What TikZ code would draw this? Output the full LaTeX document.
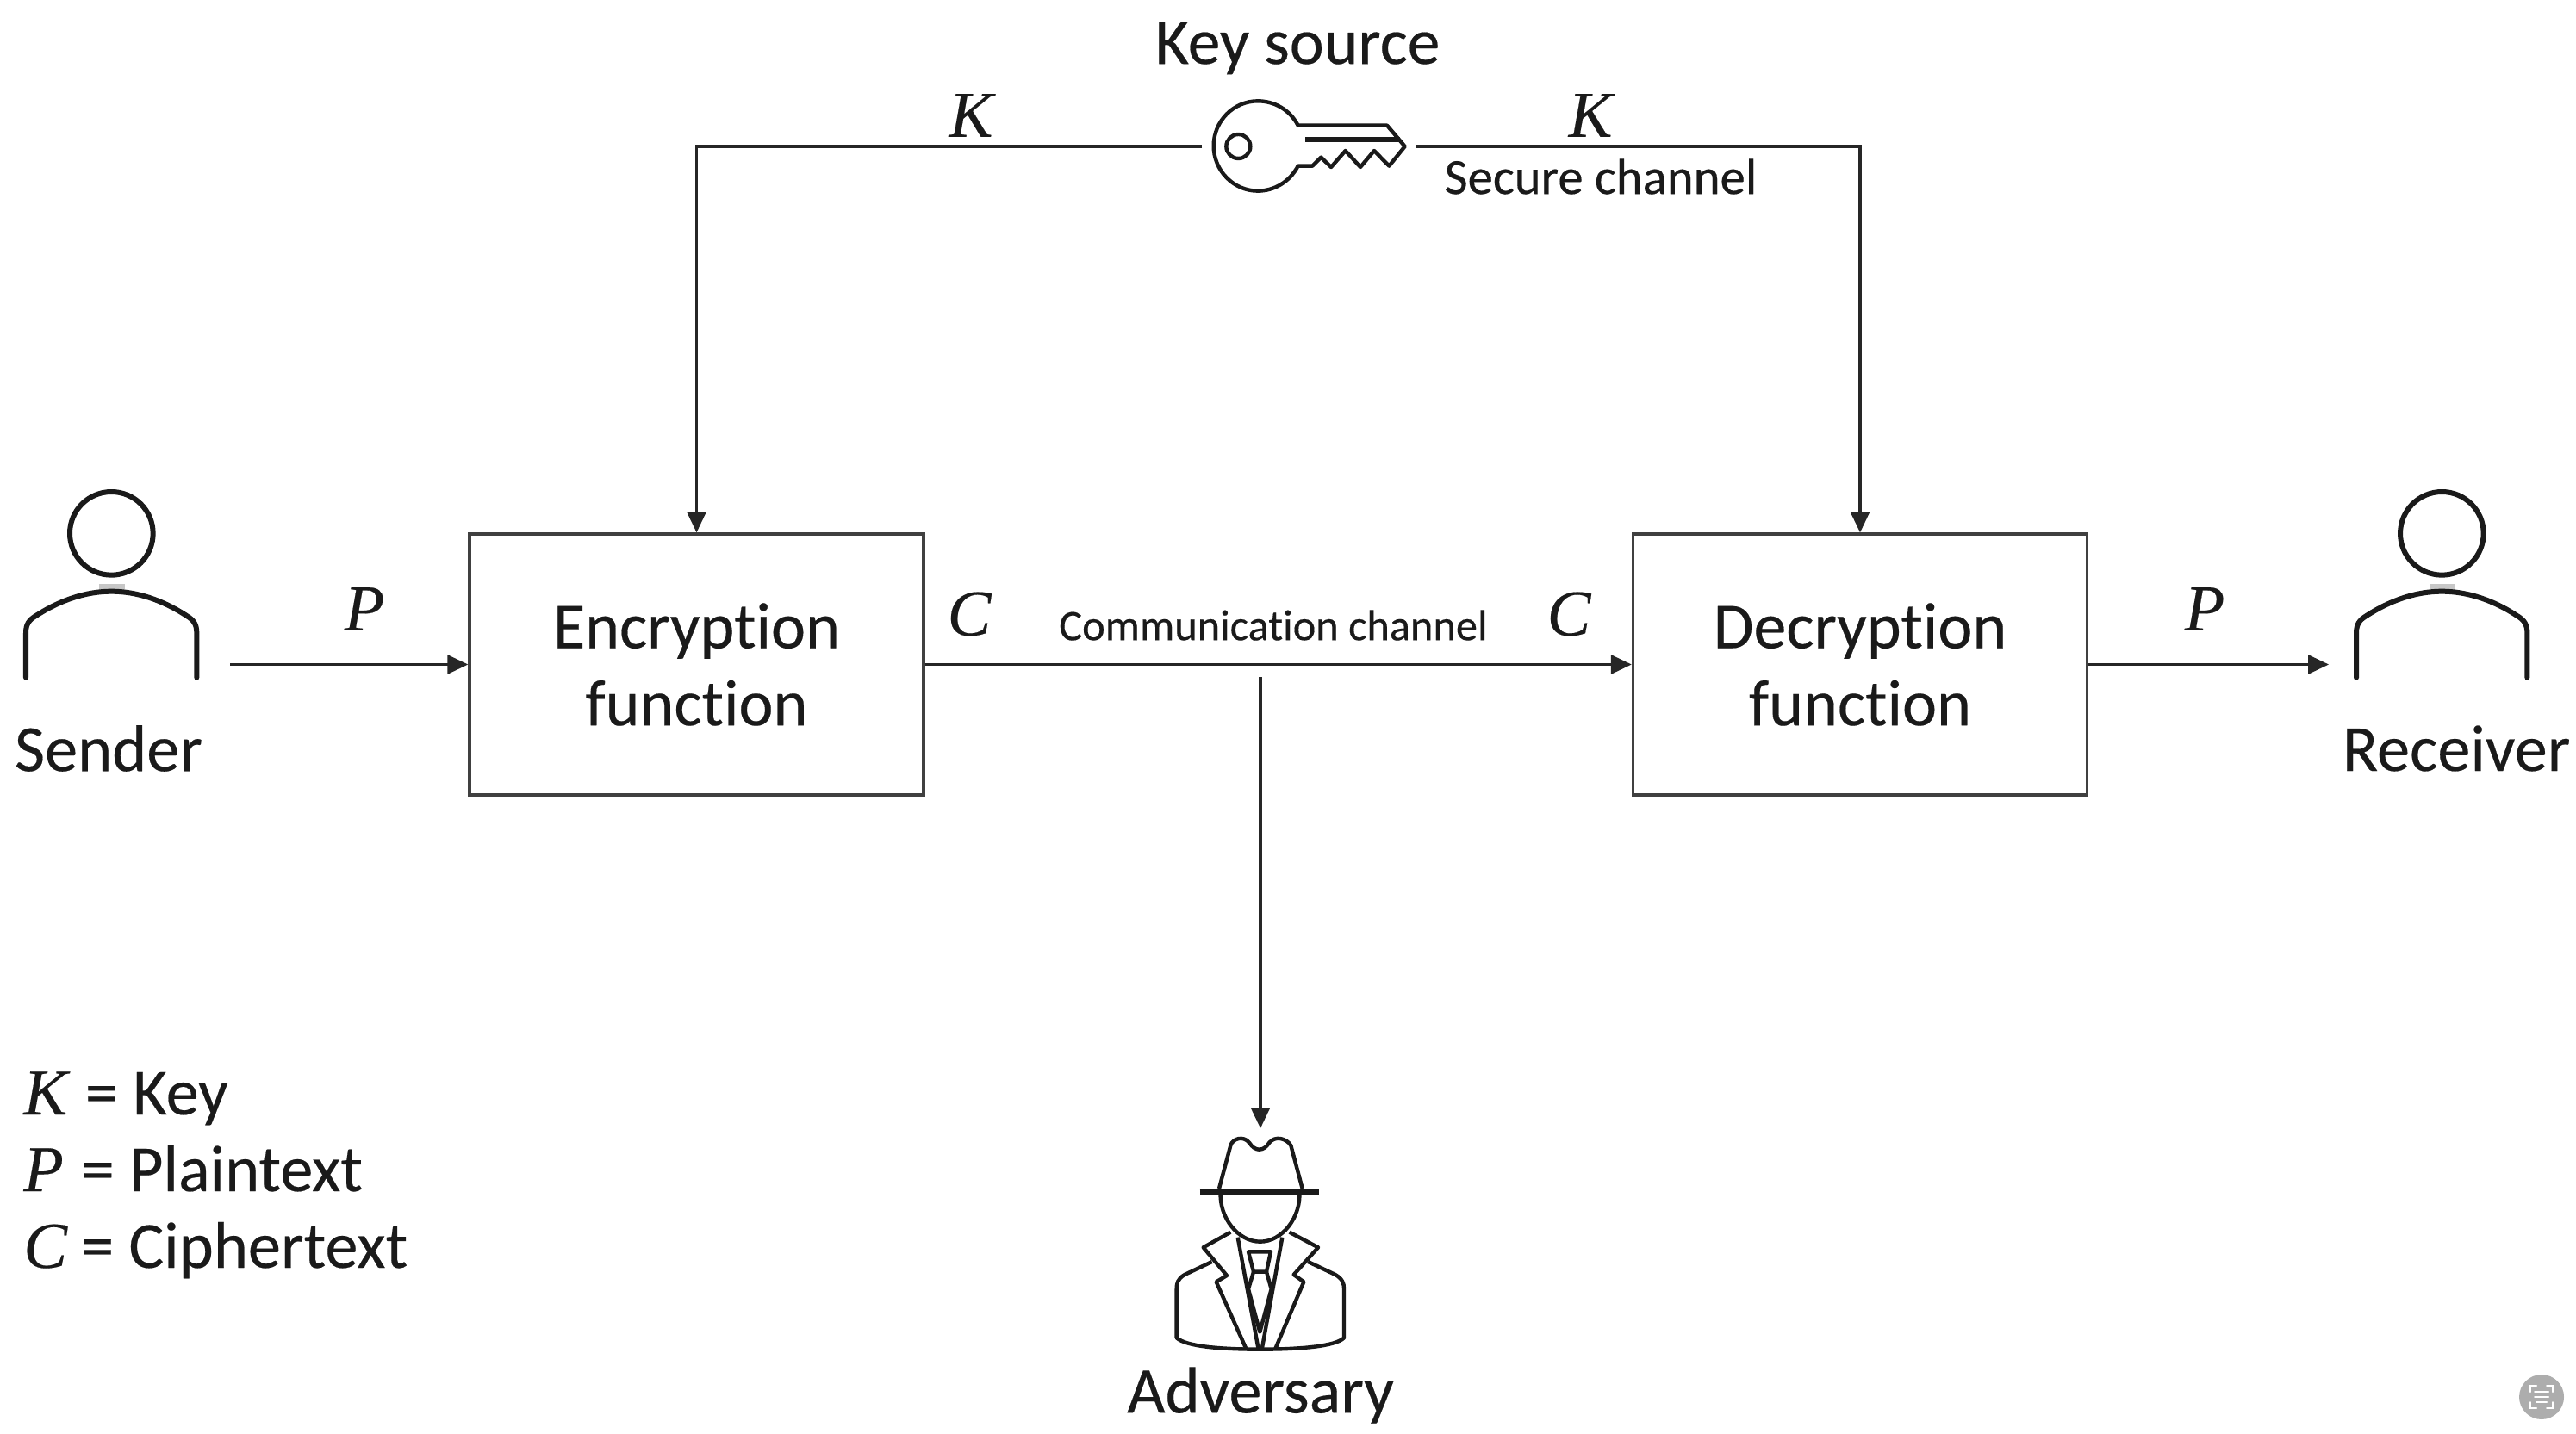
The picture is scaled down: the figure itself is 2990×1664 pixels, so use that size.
\documentclass[tikz,border=0pt]{standalone}
\usepackage{fontspec}
\setmainfont[RawFeature={-liga},FakeBold=0.25]{Carlito}
\newfontfamily\mathlike[FakeBold=0.25]{Liberation Serif}
\usetikzlibrary{arrows.meta}
\definecolor{ink}{HTML}{1A1A1A}
\definecolor{wire}{HTML}{262626}
\definecolor{boxline}{HTML}{404040}
\newcommand{\sym}[1]{{\mathlike\itshape #1}}
\tikzset{
  x=0.5pt,y=-0.5pt,
  wireline/.style={draw=wire,line width=1.6pt},
  arrowline/.style={wireline,-{Triangle[length=12pt,width=11pt]}},
  block/.style={draw=boxline,line width=1.7pt,minimum width=263.5pt,minimum height=151.5pt,inner sep=0pt,align=center,font=\fontsize{38}{45}\selectfont,text=ink},
  icon/.style={draw=ink,line width=3pt,line join=round,line cap=round,fill=white},
  thin icon/.style={draw=ink,line width=2.2pt,line join=round},
  big/.style={font=\fontsize{38.2}{45}\selectfont,text=ink,inner sep=0pt},
  sec/.style={font=\fontsize{29.4}{36}\selectfont,text=ink,inner sep=0pt},
  comm/.style={font=\fontsize{25.2}{30}\selectfont,text=ink,inner sep=0pt},
  symb/.style={font=\fontsize{38}{48}\selectfont,text=ink,inner sep=0pt},
}
\newcommand{\person}[1]{%
  \begin{scope}[shift={(#1,550)},scale=1/3]
    \fill[black!22] (345,385) rectangle (435,405);
    \draw[icon,fill=none] (388,208) circle (145);
    \draw[icon,fill=none] (90,710) -- (90,555) .. controls (90,525) and (100,510) .. (125,495)
       .. controls (210,440) and (300,410) .. (388,410)
       .. controls (476,410) and (566,440) .. (650,495)
       .. controls (675,510) and (685,525) .. (685,555) -- (685,710);
  \end{scope}}
\begin{document}
\begin{tikzpicture}
\path[use as bounding box,fill=white] (0,0) rectangle (2990,1664);

% boxes
\node[block] (enc) at (808.5,771.5) {\raisebox{-2.5pt}{Encryption}\\[-0.2pt]\raisebox{-2.5pt}{function}};
\node[block] (dec) at (2159,771.5) {\raisebox{-2.5pt}{Decryption}\\[-0.2pt]\raisebox{-2.5pt}{function}};

% free ends
\coordinate (keyL) at (1395,170);
\coordinate (keyR) at (1643,170);
\coordinate (senderOut) at (267,771.5);
\coordinate (receiverIn) at (2703,771.5);
\coordinate (tapTop) at (1463,786);
\coordinate (tapEnd) at (1463,1310);

% connectors
\draw[arrowline] (keyL) -| (enc.north);
\draw[arrowline] (keyR) -| (dec.north);
\draw[arrowline] (senderOut) -- (enc.west);
\draw[arrowline] (enc.east) -- (dec.west);
\draw[arrowline] (dec.east) -- (receiverIn);
\draw[arrowline] (tapTop) -- (tapEnd);

% key
\begin{scope}[shift={(1300,0)},scale=1/3]
  \draw[thin icon] (620,437) .. controls (590,380) and (535,352) .. (480,352)
    .. controls (395,352) and (326,422) .. (326,508)
    .. controls (326,594) and (395,665) .. (480,665)
    .. controls (535,665) and (590,635) .. (620,578)
    -- (670,578) -- (700,548) -- (735,582) -- (785,525) -- (837,582) -- (885,525) -- (937,578) -- (992,510) -- (930,437) -- cycle;
  \draw[thin icon,line width=3pt] (645,487) -- (975,487);
  \draw[thin icon] (412,510) circle (42);
\end{scope}

% adversary
\begin{scope}[shift={(1300,1280)},scale=1/3]
  % hat
  \draw[thin icon] (345,300) -- (385,150) .. controls (392,125) and (430,115) .. (450,140)
     .. controls (470,172) and (500,172) .. (520,140)
     .. controls (540,115) and (580,125) .. (595,150) -- (635,300);
  \draw[thin icon,line width=3.2pt] (278,312) -- (692,312);
  % face
  \draw[thin icon] (350,312) .. controls (345,400) and (410,485) .. (488,485)
     .. controls (565,485) and (630,400) .. (625,312);
  % jacket
  \draw[thin icon] (320,555) -- (225,600) .. controls (200,615) and (197,630) .. (197,650) -- (197,820)
     .. controls (230,850) and (350,860) .. (488,860)
     .. controls (625,860) and (750,850) .. (780,820) -- (780,650)
     .. controls (780,630) and (775,615) .. (750,600) -- (655,555);
  \draw[thin icon] (385,452) -- (290,505) -- (372,603) -- (335,625) -- (440,860);
  \draw[thin icon] (590,452) -- (690,505) -- (605,600) -- (640,625) -- (540,860);
  \draw[thin icon] (410,470) -- (482,860);
  \draw[thin icon] (565,470) -- (494,860);
  % tie
  \draw[thin icon] (447,520) -- (525,520) -- (510,590) -- (465,590) -- cycle;
  \draw[thin icon] (465,590) -- (447,650) -- (487,800) -- (527,650) -- (510,590);
\end{scope}

% people
\person{0}
\person{2705}

% labels
\node[big,font=\fontsize{37.8}{45}\selectfont] (keysource) at (1506,56) {Key source};
\node[sec] (secure) at (1858,205) {Secure channel};
\node[comm] (comm) at (1478,726) {Communication channel};
\node[big] (sender) at (126,869) {Sender};
\node[big] (receiver) at (2851,869) {Receiver};
\node[big] (adversary) at (1463,1620) {Adversary};
\node[symb] (k1) at (1127,134) {\sym{K}};
\node[symb] (k2) at (1846,134) {\sym{K}};
\node[symb] (p1) at (423,707) {\sym{P}};
\node[symb] (c1) at (1125,713) {\sym{C}};
\node[symb] (c2) at (1821,713) {\sym{C}};
\node[symb] (p2) at (2559,707) {\sym{P}};

% legend
\node[big,anchor=base west] (lk) at (27,1294) {{\fontsize{38}{48}\selectfont\sym{K}}\hspace{1.8pt} = Key};
\node[big,anchor=base west] (lp) at (27,1383) {{\fontsize{38}{48}\selectfont\sym{P}}\hspace{1.8pt} = Plaintext};
\node[big,anchor=base west] (lc) at (27,1472) {{\fontsize{38}{48}\selectfont\sym{C}}\hspace{-0.6pt} = Ciphertext};

% corner badge
\fill[black!32] (2950,1622) circle (26);
\begin{scope}[shift={(2950,1622)},draw=white,line width=1pt,line cap=round]
  \draw (-13,-6) -- (-13,-13) -- (-6,-13);
  \draw (6,-13) -- (13,-13) -- (13,-6);
  \draw (-13,6) -- (-13,13) -- (-6,13);
  \draw (6,13) -- (13,13) -- (13,6);
  \draw (-8,-6) -- (8,-6);
  \draw (-8,0) -- (8,0);
  \draw (-6,6) -- (6,6);
\end{scope}
\end{tikzpicture}
\end{document}
